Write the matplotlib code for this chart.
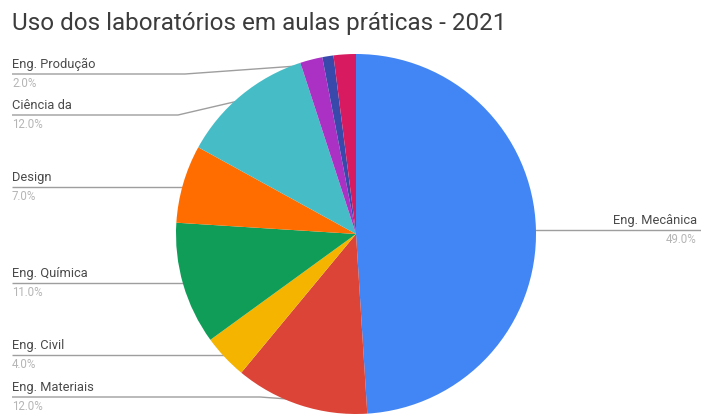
import numpy as np
import matplotlib
matplotlib.use("Agg")
import matplotlib.pyplot as plt

plt.rcParams['font.family'] = ['Roboto', 'DejaVu Sans']

categories = ["Eng. Mecânica", "Eng. Materiais", "Eng. Civil", "Eng. Química",
              "Design", "Ciência da", "Eng. Produção", "Outro 1", "Outro 2"]
values = [49.0, 12.0, 4.0, 11.0, 7.0, 12.0, 2.0, 1.0, 2.0]
colors = ["#4285F4", "#DB4437", "#F4B400", "#0F9D58", "#FF6D00",
          "#46BDC6", "#AB30C4", "#3949AB", "#D81B60"]
pct_labels = ["49.0%", "12.0%", "4.0%", "11.0%", "7.0%", "12.0%", "2.0%", "", ""]
title = "Uso dos laboratórios em aulas práticas - 2021"

W, H = 701, 415
fig = plt.figure(figsize=(W / 100, H / 100), dpi=100)
ax = fig.add_axes([0, 0, 1, 1])

cx, cy, r = 356, H - 234, 180
wedges, _ = ax.pie(values, colors=colors, startangle=90, counterclock=False,
                   center=(cx, cy), radius=r, frame=True,
                   wedgeprops=dict(linewidth=0, antialiased=True))
ax.set_xlim(0, W)
ax.set_ylim(0, H)
ax.set_aspect('equal')
ax.axis('off')

# label layout (pixel y of leader line, knee x), left side labels
layout = {
    "Eng. Produção": (74, 185, 'left'),
    "Ciência da": (115, 178, 'left'),
    "Design": (187, None, 'left'),
    "Eng. Química": (283, None, 'left'),
    "Eng. Civil": (355, None, 'left'),
    "Eng. Materiais": (397, 260, 'left'),
    "Eng. Mecânica": (230, None, 'right'),
}

line_color = "#9e9e9e"
text_color = "#4a4a4a"
pct_color = "#b5b5b5"
fs = 9.3

total = sum(values)
cum = 0.0
for cat, v, pl in zip(categories, values, pct_labels):
    mid = (cum + v / 2) / total
    cum += v
    if cat not in layout:
        continue
    ang = np.deg2rad(90 - 360 * mid)
    px = cx + r * np.cos(ang) * 0.97
    py = cy + r * np.sin(ang) * 0.97
    ly, knee, side = layout[cat]
    ly = H - ly
    if side == 'left':
        x0 = 12
        xs = [x0]
        ys = [ly]
        if knee is not None:
            xs.append(knee)
            ys.append(ly)
        xs.append(px)
        ys.append(py if knee is not None else ly)
        ax.plot(xs, ys, color=line_color, lw=1.0, zorder=0.5, solid_capstyle='butt')
        ax.text(x0, ly + 3, cat, ha='left', va='bottom', fontsize=fs, color=text_color)
        ax.text(x0, ly - 3, pl, ha='left', va='top', fontsize=fs - 1.0, color=pct_color)
    else:
        x1 = 700
        ax.plot([px, x1], [ly, ly], color=line_color, lw=1.0, zorder=0.5)
        ax.text(697, ly + 3, cat, ha='right', va='bottom', fontsize=fs, color=text_color)
        ax.text(697, ly - 3, pl, ha='right', va='top', fontsize=fs - 1.0, color=pct_color)

for w in wedges:
    w.set_zorder(1)

fig.text(12 / W, 1 - 30 / H, title, ha='left', va='baseline', fontsize=17.5, color="#3c3c3c")

fig.savefig("out.png", dpi=100, facecolor='white')
